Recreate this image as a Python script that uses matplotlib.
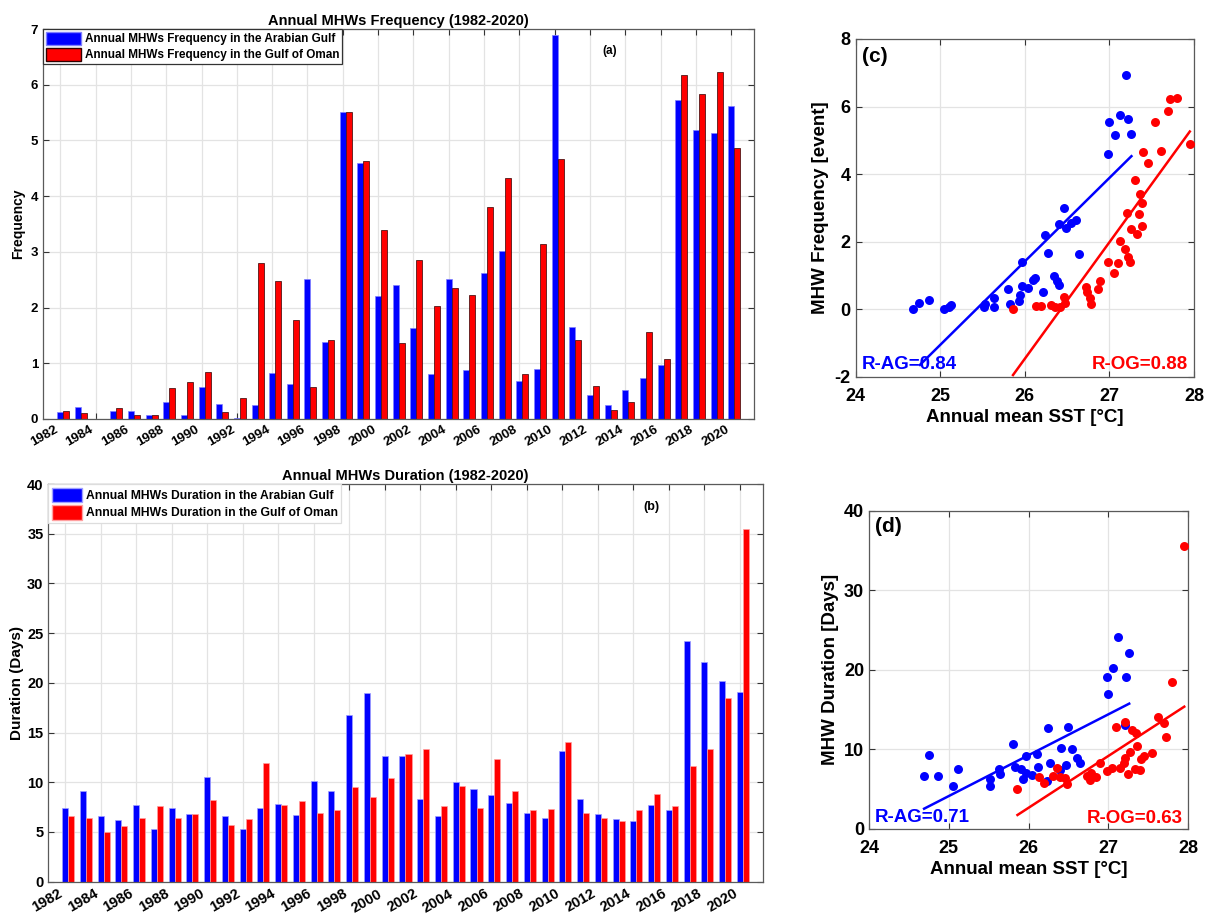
import matplotlib
matplotlib.use('Agg')
import matplotlib.pyplot as plt
import numpy as np
from matplotlib.patches import Patch

# ---------------- data ----------------
years = np.arange(1982, 2021)

freq_ag = [0.13, 0.21, 0.0, 0.14, 0.14, 0.08, 0.31, 0.07, 0.575, 0.275,
           0.02, 0.245, 0.83, 0.63, 2.51, 1.38, 5.51, 4.59, 2.21, 2.41,
           1.63, 0.81, 2.51, 0.88, 2.62, 3.01, 0.69, 0.90, 6.90, 1.65,
           0.425, 0.245, 0.52, 0.73, 0.96, 5.73, 5.19, 5.14, 5.62]
freq_og = [0.14, 0.11, 0.0, 0.20, 0.08, 0.08, 0.55, 0.67, 0.845, 0.12,
           0.37, 2.80, 2.47, 1.78, 0.575, 1.41, 5.51, 4.63, 3.39, 1.365,
           2.85, 2.02, 2.35, 2.22, 3.81, 4.32, 0.80, 3.14, 4.66, 1.42,
           0.59, 0.156, 0.30, 1.57, 1.07, 6.18, 5.84, 6.22, 4.87]

dur_ag = [7.43, 9.17, 6.57, 6.2, 7.73, 5.27, 7.37, 6.8, 10.57, 6.63,
          5.27, 7.37, 7.77, 6.73, 10.17, 9.1, 16.8, 18.97, 12.63, 12.67,
          8.3, 6.6, 10.0, 9.3, 8.77, 7.9, 6.9, 6.37, 13.19, 8.3,
          6.76, 6.3, 6.06, 7.7, 7.23, 24.18, 22.07, 20.19, 19.09]
dur_og = [6.6, 6.37, 4.97, 5.6, 6.43, 7.6, 6.43, 6.8, 8.23, 5.73,
          6.3, 11.9, 7.7, 8.13, 6.9, 7.2, 9.53, 8.47, 10.43, 12.8,
          13.37, 7.6, 9.63, 7.43, 12.3, 9.1, 7.2, 7.3, 14.07, 6.93,
          6.43, 6.13, 7.23, 8.87, 7.6, 11.62, 13.33, 18.49, 35.5]

# panel (c): annual mean SST vs frequency
c_ag_sst = [24.68, 24.745, 24.87, 25.05, 25.10, 25.13, 25.52, 25.53, 25.64, 25.64,
            25.80, 25.82, 25.93, 25.94, 25.97, 25.97, 26.04, 26.10, 26.12, 26.21,
            26.24, 26.27, 26.34, 26.38, 26.40, 26.40, 26.46, 26.49, 26.55, 26.61,
            26.64, 26.98, 27.00, 27.07, 27.12, 27.20, 27.22, 27.26]
c_ag_freq = [0.0, 0.19, 0.26, 0.0, 0.07, 0.12, 0.07, 0.15, 0.32, 0.07,
             0.59, 0.14, 0.24, 0.42, 1.39, 0.69, 0.64, 0.87, 0.91, 0.52,
             2.21, 1.65, 0.98, 0.84, 0.73, 2.52, 3.01, 2.39, 2.54, 2.63,
             1.62, 4.59, 5.53, 5.16, 5.76, 6.92, 5.63, 5.20]
c_og_sst = [25.86, 26.13, 26.19, 26.31, 26.36, 26.42, 26.46, 26.48, 26.72, 26.73,
            26.77, 26.78, 26.86, 26.89, 26.98, 27.05, 27.10, 27.12, 27.18, 27.21,
            27.22, 27.24, 27.26, 27.32, 27.30, 27.35, 27.36, 27.39, 27.39, 27.40,
            27.46, 27.54, 27.61, 27.69, 27.72, 27.80, 27.95]
c_og_freq = [0.0, 0.10, 0.10, 0.12, 0.07, 0.07, 0.35, 0.19, 0.67, 0.52,
             0.32, 0.14, 0.59, 0.83, 1.39, 1.08, 1.36, 2.02, 1.77, 2.86,
             1.55, 1.40, 2.36, 2.24, 3.82, 2.82, 3.40, 3.15, 2.47, 4.64,
             4.32, 5.53, 4.68, 5.87, 6.21, 6.24, 4.89]
c_ag_fit_sst = [24.76, 27.26]
c_ag_fit_freq = [-1.65, 4.53]
c_og_fit_sst = [25.86, 27.95]
c_og_fit_freq = [-1.95, 5.26]

# panel (d): annual mean SST vs duration
d_ag_sst = [24.685, 24.75, 24.86, 25.05, 25.12, 25.52, 25.52, 25.63, 25.64, 25.80,
            25.83, 25.90, 25.93, 25.97, 25.97, 26.04, 26.10, 26.12, 26.23, 26.24,
            26.27, 26.40, 26.39, 26.47, 26.49, 26.54, 26.61, 26.64, 26.98, 27.00,
            27.06, 27.12, 27.22, 27.26, 27.21]
d_ag_dur = [6.66, 9.26, 6.70, 5.40, 7.50, 6.28, 5.36, 7.50, 6.87, 10.68,
            7.83, 7.50, 6.32, 9.17, 7.0, 6.79, 9.38, 7.83, 6.07, 12.73,
            8.25, 10.22, 7.41, 8.04, 12.77, 10.09, 8.88, 8.33, 19.14, 16.96,
            20.23, 24.17, 19.14, 22.07, 13.07]
d_og_sst = [25.86, 26.13, 26.19, 26.31, 26.35, 26.39, 26.46, 26.48, 26.73, 26.77,
            26.78, 26.85, 26.89, 26.98, 27.04, 27.09, 27.14, 27.19, 27.21, 27.21,
            27.25, 27.27, 27.29, 27.35, 27.36, 27.33, 27.39, 27.41, 27.45, 27.54,
            27.62, 27.69, 27.72, 27.80, 27.95]
d_og_dur = [4.98, 6.49, 5.82, 6.70, 7.71, 6.58, 6.37, 5.65, 6.66, 6.16,
            6.99, 6.49, 8.25, 7.29, 7.71, 12.86, 7.71, 8.25, 8.96, 13.45,
            6.91, 9.72, 12.44, 12.10, 10.47, 7.50, 7.41, 8.75, 9.17, 9.59,
            14.07, 13.28, 11.60, 18.47, 35.56]
d_ag_fit_sst = [24.69, 27.26]
d_ag_fit_dur = [2.55, 15.75]
d_og_fit_sst = [25.86, 27.95]
d_og_fit_dur = [1.76, 15.37]

year_ticks = list(range(1982, 2021, 2))

# ---------------- style ----------------
plt.rcParams['font.family'] = ['Liberation Sans', 'DejaVu Sans']
plt.rcParams['font.weight'] = 'bold'
plt.rcParams['axes.labelweight'] = 'bold'
plt.rcParams['axes.unicode_minus'] = False

BLUE = '#0000ff'
RED = '#ff0000'
GRID = '#e3e3e3'
SPINE = '#5a5a5a'

fig = plt.figure(figsize=(12.05, 9.15), dpi=100)


def style_axes(ax, labelsize, xpad=3.5):
    for s in ax.spines.values():
        s.set_color(SPINE)
        s.set_linewidth(0.9)
    ax.tick_params(direction='in', top=True, right=True, length=4,
                   width=0.8, color='#333333', labelsize=labelsize)
    ax.tick_params(axis='x', pad=xpad)
    ax.grid(True, color=GRID, linewidth=0.9)
    ax.set_axisbelow(True)


W = 0.34

# ---------------- (a) ----------------
axa = fig.add_axes([0.0357, 0.5421, 0.5900, 0.4262])
axa.bar(years, freq_ag, width=W, color=BLUE, edgecolor='#7f7fff', linewidth=0.5)
axa.bar(years + W, freq_og, width=W, color=RED, edgecolor='#300000', linewidth=0.5)
axa.set_xlim(1981.02, 2021.29)
axa.set_ylim(0, 7)
axa.set_xticks(year_ticks)
axa.set_xticklabels([str(y) for y in year_ticks], rotation=30, ha='right')
axa.set_yticks(range(0, 8))
style_axes(axa, 9.5)
axa.set_ylabel('Frequency', fontsize=10, labelpad=4)
axa.set_title('Annual MHWs Frequency (1982-2020)', fontsize=10.5, fontweight='bold', pad=3)
axa.text(2013.1, 6.6, '(a)', fontsize=8.5, fontweight='bold', ha='center', va='center')
leg = axa.legend(handles=[Patch(facecolor=BLUE, edgecolor='#7f7fff', label='Annual MHWs Frequency in the Arabian Gulf'),
                          Patch(facecolor=RED, edgecolor='#300000', label='Annual MHWs Frequency in the Gulf of Oman')],
                 loc='upper left', bbox_to_anchor=(0, 1), borderaxespad=0, fontsize=8.5,
                 frameon=True, fancybox=False, handlelength=3.0, handleheight=1.3,
                 handletextpad=0.3, labelspacing=0.2, borderpad=0.25)
leg.get_frame().set_edgecolor('#333333')
leg.get_frame().set_linewidth(0.9)
leg.get_frame().set_alpha(1)

# ---------------- (b) ----------------
axb = fig.add_axes([0.0401, 0.0364, 0.5931, 0.4346])
axb.bar(years, dur_ag, width=W, color=BLUE, edgecolor='#9f9fff', linewidth=0.5)
axb.bar(years + W, dur_og, width=W, color=RED, edgecolor='#ffa0a0', linewidth=0.5)
axb.set_xlim(1981.06, 2021.3)
axb.set_ylim(0, 40)
axb.set_xticks(year_ticks)
axb.set_xticklabels([str(y) for y in year_ticks], rotation=30, ha='right')
axb.set_yticks(range(0, 41, 5))
style_axes(axb, 10.5)
axb.set_ylabel('Duration (Days)', fontsize=11, labelpad=2)
axb.set_title('Annual MHWs Duration (1982-2020)', fontsize=10.5, fontweight='bold', pad=3)
axb.text(2015.0, 37.7, '(b)', fontsize=9, fontweight='bold', ha='center', va='center')
leg = axb.legend(handles=[Patch(facecolor=BLUE, edgecolor='#9f9fff', label='Annual MHWs Duration in the Arabian Gulf'),
                          Patch(facecolor=RED, edgecolor='#ffa0a0', label='Annual MHWs Duration in the Gulf of Oman')],
                 loc='upper left', bbox_to_anchor=(0, 1), borderaxespad=0, fontsize=8.7,
                 frameon=True, fancybox=False, handlelength=2.5, handleheight=1.5,
                 handletextpad=0.3, labelspacing=0.2, borderpad=0.3)
leg.get_frame().set_edgecolor('#dddddd')
leg.get_frame().set_linewidth(0.9)
leg.get_frame().set_alpha(1)

# ---------------- (c) ----------------
axc = fig.add_axes([0.7101, 0.5883, 0.2808, 0.3691])
axc.scatter(c_ag_sst, c_ag_freq, s=42, color=BLUE, zorder=3, linewidths=0)
axc.scatter(c_og_sst, c_og_freq, s=42, color=RED, zorder=3, linewidths=0)
axc.plot(c_ag_fit_sst, c_ag_fit_freq, color=BLUE, lw=1.8, zorder=4)
axc.plot(c_og_fit_sst, c_og_fit_freq, color=RED, lw=1.8, zorder=4)
axc.set_xlim(24, 28)
axc.set_ylim(-2, 8)
axc.set_xticks([24, 25, 26, 27, 28])
axc.set_yticks([-2, 0, 2, 4, 6, 8])
style_axes(axc, 13, xpad=8)
axc.set_xlabel('Annual mean SST [°C]', fontsize=13.5, labelpad=3)
axc.set_ylabel('MHW Frequency [event]', fontsize=13.5, labelpad=4)
axc.text(24.07, 7.48, '(c)', fontsize=15, fontweight='bold', ha='left', va='center')
axc.text(24.07, -1.65, 'R-AG=0.84', fontsize=13.5, fontweight='bold', color=BLUE, ha='left', va='center', zorder=5)
axc.text(27.93, -1.65, 'R-OG=0.88', fontsize=13.5, fontweight='bold', color=RED, ha='right', va='center', zorder=5)

# ---------------- (d) ----------------
axd = fig.add_axes([0.7212, 0.0940, 0.2649, 0.3479])
axd.scatter(d_ag_sst, d_ag_dur, s=42, color=BLUE, zorder=3, linewidths=0)
axd.scatter(d_og_sst, d_og_dur, s=42, color=RED, zorder=3, linewidths=0)
axd.plot(d_ag_fit_sst, d_ag_fit_dur, color=BLUE, lw=1.8, zorder=4)
axd.plot(d_og_fit_sst, d_og_fit_dur, color=RED, lw=1.8, zorder=4)
axd.set_xlim(24, 28)
axd.set_ylim(0, 40)
axd.set_xticks([24, 25, 26, 27, 28])
axd.set_yticks([0, 10, 20, 30, 40])
style_axes(axd, 13, xpad=8)
axd.set_xlabel('Annual mean SST [°C]', fontsize=13.5, labelpad=3)
axd.set_ylabel('MHW Duration [Days]', fontsize=13.5, labelpad=4)
axd.text(24.075, 38.0, '(d)', fontsize=15, fontweight='bold', ha='left', va='center')
axd.text(24.07, 1.42, 'R-AG=0.71', fontsize=13.5, fontweight='bold', color=BLUE, ha='left', va='center', zorder=5)
axd.text(27.93, 1.34, 'R-OG=0.63', fontsize=13.5, fontweight='bold', color=RED, ha='right', va='center', zorder=5)

fig.savefig('out.png', dpi=100)
